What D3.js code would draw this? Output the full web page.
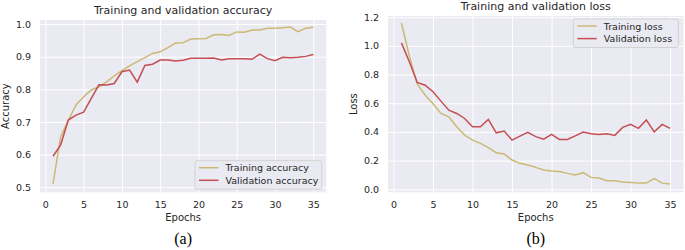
<!DOCTYPE html>
<html>
<head>
<meta charset="utf-8">
<script src="https://cdn.jsdelivr.net/npm/d3@7"></script>
<style>
  body { margin: 0; background: #fff; }
  svg text { font-family: "DejaVu Sans", sans-serif; fill: #262626; }
  .axis .domain { display: none; }
  .grid line { stroke: #fff; stroke-width: 1; }
  .grid .domain { display: none; }
  .grid text { display: none; }
  .caption { font-family: "Liberation Serif", "Times New Roman", serif !important; }
</style>
</head>
<body>
<div class="chart"></div>
<script>
// epochs 1..35
var epochs = d3.range(1, 36);

var trainAcc = [0.51, 0.655, 0.705, 0.752, 0.777, 0.798, 0.808, 0.823, 0.841, 0.857,
  0.872, 0.885, 0.897, 0.910, 0.915, 0.928, 0.942, 0.943, 0.954, 0.955,
  0.956, 0.967, 0.968, 0.965, 0.976, 0.975, 0.982, 0.982, 0.987, 0.987,
  0.989, 0.991, 0.977, 0.987, 0.990];
var valAcc = [0.595, 0.630, 0.706, 0.721, 0.730, 0.772, 0.814, 0.813, 0.818, 0.854,
  0.859, 0.822, 0.873, 0.877, 0.890, 0.890, 0.887, 0.889, 0.895, 0.895,
  0.895, 0.896, 0.890, 0.894, 0.894, 0.894, 0.892, 0.908, 0.894, 0.888,
  0.898, 0.897, 0.898, 0.901, 0.907];

var trainLoss = [1.160, 0.930, 0.735, 0.657, 0.597, 0.529, 0.506, 0.436, 0.378, 0.343,
  0.320, 0.290, 0.255, 0.246, 0.204, 0.181, 0.169, 0.153, 0.134, 0.127,
  0.124, 0.111, 0.100, 0.116, 0.083, 0.078, 0.060, 0.060, 0.051, 0.047,
  0.043, 0.043, 0.074, 0.043, 0.037];
var valLoss = [1.021, 0.890, 0.745, 0.726, 0.680, 0.615, 0.552, 0.529, 0.494, 0.436,
  0.436, 0.487, 0.394, 0.406, 0.343, 0.371, 0.397, 0.367, 0.350, 0.383,
  0.348, 0.348, 0.373, 0.399, 0.387, 0.383, 0.387, 0.376, 0.432, 0.453,
  0.425, 0.483, 0.401, 0.453, 0.425];

var xTicks = [0, 5, 10, 15, 20, 25, 30, 35];
var accTicks = [0.5, 0.6, 0.7, 0.8, 0.9, 1.0];
var lossTicks = [0.0, 0.2, 0.4, 0.6, 0.8, 1.0, 1.2];

var colTrain = "#ccb974";
var colVal = "#c44e52";

var svg = d3.select(".chart").append("svg")
  .attr("width", 685)
  .attr("height", 250);

function drawPanel(cfg) {
  var x = d3.scaleLinear().domain([-0.7, 36.7]).range([cfg.left, cfg.right]);
  var y = d3.scaleLinear().domain(cfg.yDomain).range([cfg.bottom, cfg.top]);
  var g = svg.append("g");

  g.append("rect")
    .attr("x", cfg.left).attr("y", cfg.top)
    .attr("width", cfg.right - cfg.left).attr("height", cfg.bottom - cfg.top)
    .style("fill", "#eaeaf2");

  // grid
  g.append("g").attr("class", "grid")
    .attr("transform", `translate(0,${cfg.bottom})`)
    .call(d3.axisBottom(x).tickValues(xTicks).tickSize(-(cfg.bottom - cfg.top)));
  g.append("g").attr("class", "grid")
    .attr("transform", `translate(${cfg.left},0)`)
    .call(d3.axisLeft(y).tickValues(cfg.yTicks).tickSize(-(cfg.right - cfg.left)));

  // axes labels
  g.append("g").attr("class", "axis")
    .attr("transform", `translate(0,${cfg.bottom})`)
    .call(d3.axisBottom(x).tickValues(xTicks).tickSize(0).tickPadding(8.5))
    .selectAll("text").style("font-size", "9.5px").style("fill", "#262626");
  g.append("g").attr("class", "axis")
    .attr("transform", `translate(${cfg.left},0)`)
    .call(d3.axisLeft(y).tickValues(cfg.yTicks).tickSize(0).tickPadding(9)
      .tickFormat(d3.format(".1f")))
    .selectAll("text").style("font-size", "9.5px").style("fill", "#262626");
  g.selectAll(".axis line").remove();

  var line = d3.line().x((d, i) => x(epochs[i])).y(d => y(d));
  g.append("path").datum(cfg.train)
    .attr("d", line)
    .style("fill", "none").style("stroke", colTrain).style("stroke-width", 1.5);
  g.append("path").datum(cfg.val)
    .attr("d", line)
    .style("fill", "none").style("stroke", colVal).style("stroke-width", 1.5);

  var cx = (cfg.left + cfg.right) / 2;
  g.append("text").attr("x", cx).attr("y", cfg.titleY)
    .style("text-anchor", "middle").style("font-size", "11px")
    .text(cfg.title);
  g.append("text").attr("x", cx).attr("y", 220.5)
    .style("text-anchor", "middle").style("font-size", "10px")
    .text("Epochs");
  g.append("text")
    .attr("transform", `translate(${cfg.yLabelX},${(cfg.top + cfg.bottom) / 2}) rotate(-90)`)
    .style("text-anchor", "middle").style("font-size", "10px")
    .text(cfg.yLabel);
  g.append("text").attr("class", "caption").attr("x", cx).attr("y", 243.5)
    .style("text-anchor", "middle").style("font-size", "16px")
    .style("fill", "#000")
    .text(cfg.caption);

  // legend
  var L = cfg.legend;
  g.append("rect")
    .attr("x", L.x).attr("y", L.y).attr("width", L.w).attr("height", 28.5)
    .attr("rx", 2)
    .style("fill", "#eaeaf2").style("stroke", "#cccccc").style("stroke-width", 0.8);
  [[cfg.legendNames[0], colTrain], [cfg.legendNames[1], colVal]].forEach(function (d, i) {
    var yy = L.y + 7 + i * 12.6;
    g.append("line")
      .attr("x1", L.x + 4).attr("x2", L.x + 23.5)
      .attr("y1", yy).attr("y2", yy)
      .style("stroke", d[1]).style("stroke-width", 1.5);
    g.append("text").attr("x", L.x + 30.5).attr("y", yy + 3.5)
      .style("font-size", "9.5px")
      .text(d[0]);
  });
}

drawPanel({
  left: 40, right: 326.3, top: 20, bottom: 192.3,
  yDomain: [0.4845, 1.0125], yTicks: accTicks,
  train: trainAcc, val: valAcc,
  title: "Training and validation accuracy", titleY: 13.5,
  yLabel: "Accuracy", yLabelX: 9,
  caption: "(a)",
  legend: { x: 195, y: 160.7, w: 126.7 },
  legendNames: ["Training accuracy", "Validation accuracy"]
});

drawPanel({
  left: 388, right: 683.5, top: 16, bottom: 192.3,
  yDomain: [-0.021, 1.2087], yTicks: lossTicks,
  train: trainLoss, val: valLoss,
  title: "Training and validation loss", titleY: 9.5,
  yLabel: "Loss", yLabelX: 357,
  caption: "(b)",
  legend: { x: 573.3, y: 19, w: 105 },
  legendNames: ["Training loss", "Validation loss"]
});
</script>
</body>
</html>
